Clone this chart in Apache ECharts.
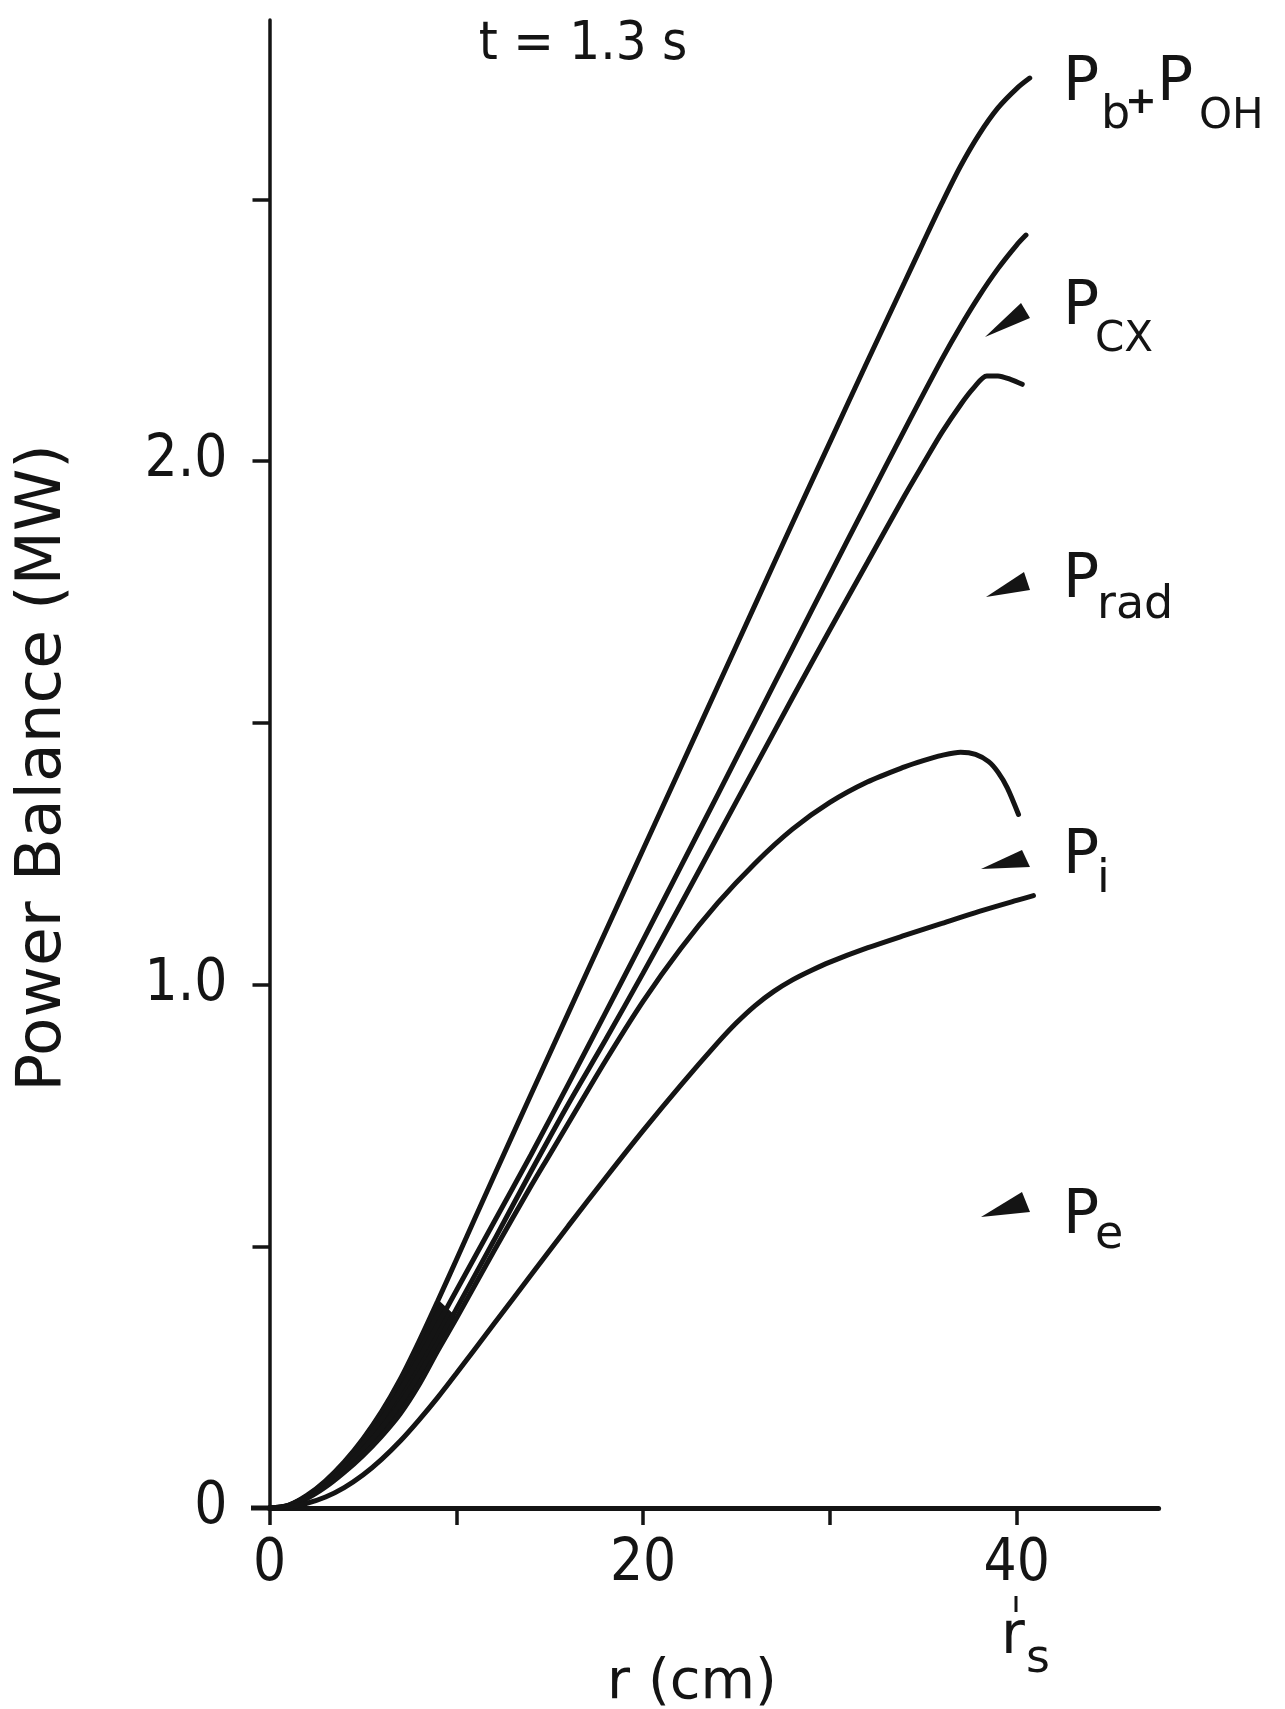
<!DOCTYPE html>
<html>
<head>
<meta charset="utf-8">
<style>
  html, body { margin: 0; padding: 0; background: #ffffff; }
  #chart { width: 1285px; height: 1709px; }
</style>
<script src="https://cdn.jsdelivr.net/npm/echarts@6/dist/echarts.min.js"></script>
</head>
<body>
<div id="chart"></div>
<script>
// radius r (cm) and power (MW)
const xTotal = [0, 1, 2, 3, 4, 5, 6, 7, 8, 9, 10, 12, 14, 16, 18, 20, 22, 24, 26, 28, 30, 32, 34, 35, 36, 37, 38, 39, 40, 40.7];
const yTotal = [0, 0.005, 0.024, 0.052, 0.088, 0.132, 0.184, 0.246, 0.318, 0.395, 0.474, 0.633, 0.79, 0.946, 1.102, 1.258, 1.414, 1.57, 1.726, 1.882, 2.036, 2.19, 2.342, 2.418, 2.493, 2.564, 2.625, 2.675, 2.712, 2.732];

const xCx = [0, 1, 2, 3, 4, 5, 6, 7, 8, 9, 10, 12, 14, 16, 18, 20, 22, 24, 26, 28, 30, 32, 34, 36, 37, 38, 39, 40, 40.5];
const yCx = [0, 0.005, 0.022, 0.048, 0.082, 0.123, 0.17, 0.225, 0.285, 0.35, 0.415, 0.545, 0.675, 0.81, 0.947, 1.085, 1.224, 1.363, 1.503, 1.643, 1.783, 1.922, 2.06, 2.195, 2.258, 2.316, 2.368, 2.413, 2.432];

const xRad = [0, 1, 2, 3, 4, 5, 6, 7, 8, 9, 10, 12, 14, 16, 18, 20, 22, 24, 26, 28, 30, 32, 34, 35, 36, 37, 37.7, 38.4, 39, 39.7, 40.3];
const yRad = [0, 0.004, 0.02, 0.045, 0.076, 0.112, 0.153, 0.2, 0.255, 0.315, 0.38, 0.51, 0.643, 0.772, 0.895, 1.022, 1.152, 1.284, 1.416, 1.548, 1.678, 1.806, 1.934, 1.995, 2.055, 2.108, 2.14, 2.163, 2.163, 2.156, 2.147];

const xIon = [0, 1, 2, 3, 4, 5, 6, 7, 8, 9, 10, 12, 14, 15, 16, 18, 20, 22, 24, 26, 28, 30, 32, 34, 35, 36, 37, 37.8, 38.5, 39, 39.5, 40.1];
const yIon = [0, 0.004, 0.018, 0.04, 0.068, 0.1, 0.137, 0.18, 0.235, 0.3, 0.362, 0.49, 0.615, 0.675, 0.735, 0.855, 0.968, 1.068, 1.156, 1.232, 1.297, 1.348, 1.387, 1.416, 1.428, 1.438, 1.444, 1.44, 1.426, 1.406, 1.376, 1.325];

const xEl = [0, 1, 2, 3, 4, 5, 6, 7, 8, 9, 10, 12, 14, 16, 18, 20, 22, 24, 25, 26, 27, 28, 29, 30, 32, 34, 36, 38, 40, 40.9];
const yEl = [0, 0.002, 0.009, 0.021, 0.039, 0.063, 0.093, 0.128, 0.168, 0.211, 0.257, 0.351, 0.445, 0.539, 0.631, 0.721, 0.807, 0.889, 0.927, 0.96, 0.987, 1.009, 1.027, 1.043, 1.07, 1.094, 1.117, 1.14, 1.161, 1.17];

const xTicks = [0, 10, 20, 30, 40];
const xTickLabels = [0, 20, 40];
const yTicks = [0, 0.5, 1, 1.5, 2, 2.5];
const yTickLabels = [0, 1, 2];

const ink = '#141414';
const numFont = 'DejaVu Sans Condensed';
const txtFont = 'DejaVu Sans';

function pairs(xs, ys) {
    return xs.map(function(x, i) { return [x, ys[i]]; });
}

function curve(name, xs, ys) {
    return {
        name: name,
        type: 'line',
        data: pairs(xs, ys),
        smooth: 0.3,
        showSymbol: false,
        silent: true,
        lineStyle: { color: ink, width: 5, cap: 'round' },
        z: 3
    };
}

var chartDom = document.getElementById('chart');
var myChart = echarts.init(chartDom, null, { renderer: 'canvas' });

// text helper for the graphic layer
function txt(str, x, y, size, opts) {
    opts = opts || {};
    return {
        type: 'text',
        x: x,
        y: y,
        rotation: opts.rotation || 0,
        style: {
            text: str,
            fill: ink,
            font: (opts.weight || 'normal') + ' ' + size + 'px "' + (opts.family || txtFont) + '"',
            align: opts.align || 'left',
            verticalAlign: 'middle'
        }
    };
}

function wedge(pts) {
    return { type: 'polygon', shape: { points: pts }, style: { fill: ink } };
}

var option = {
    backgroundColor: '#ffffff',
    animation: false,
    grid: { left: 269.5, right: 126.4, top: 20, bottom: 201, containLabel: false },
    xAxis: {
        type: 'value',
        min: 0,
        max: 47.6,
        interval: 10,
        splitLine: { show: false },
        axisLine: { lineStyle: { color: ink, width: 5 } },
        axisTick: { length: 17, lineStyle: { color: ink, width: 3.5 }, customValues: xTicks },
        axisLabel: {
            customValues: xTickLabels,
            margin: 28,
            color: ink,
            fontFamily: numFont,
            fontSize: 58
        }
    },
    yAxis: {
        type: 'value',
        min: 0,
        max: 2.843,
        interval: 0.5,
        splitLine: { show: false },
        axisLine: { lineStyle: { color: ink, width: 3.5 } },
        axisTick: { length: 17, lineStyle: { color: ink, width: 3.5 }, customValues: yTicks },
        axisLabel: {
            customValues: yTickLabels,
            margin: 42,
            color: ink,
            fontFamily: numFont,
            fontSize: 58,
            formatter: function(v) { return v === 0 ? '0' : v.toFixed(1); }
        }
    },
    series: [
        // solid black band where the four upper curves merge near the axis
        {
            name: 'band',
            type: 'custom',
            silent: true,
            z: 2,
            data: [[0, 0]],
            renderItem: function(params, api) {
                var pts = [];
                for (var i = 0; i < xTotal.length; i++) {
                    if (xTotal[i] <= 9) pts.push(api.coord([xTotal[i], yTotal[i]]));
                }
                for (var j = xIon.length - 1; j >= 0; j--) {
                    if (xIon[j] <= 10) pts.push(api.coord([xIon[j], yIon[j]]));
                }
                return { type: 'polygon', shape: { points: pts }, style: { fill: ink, stroke: ink, lineWidth: 3 } };
            }
        },
        curve('Pb+POH', xTotal, yTotal),
        curve('Pb+POH-Pcx', xCx, yCx),
        curve('Pb+POH-Pcx-Prad', xRad, yRad),
        curve('Pi', xIon, yIon),
        curve('Pe', xEl, yEl)
    ],
    graphic: [
        // x axis line runs a little past the y axis on the left
        { type: 'line', shape: { x1: 251, y1: 1508, x2: 270, y2: 1508 }, style: { stroke: ink, lineWidth: 5 } },

        txt('t = 1.3 s', 583, 45, 54, { align: 'center', family: numFont }),
        txt('Power Balance (MW)', 44, 768, 63, { align: 'center', rotation: Math.PI / 2 }),
        txt('r (cm)', 692, 1683, 56, { align: 'center' }),

        // r_s below the 40 tick
        { type: 'line', shape: { x1: 1016, y1: 1596, x2: 1016, y2: 1612 }, style: { stroke: ink, lineWidth: 3 } },
        txt('r', 1001, 1638, 58),
        txt('s', 1026, 1660, 46),

        // curve labels
        txt('P', 1063, 84, 60),
        txt('b', 1101, 116, 46),
        txt('+', 1141, 103, 38, { weight: 'bold', align: 'center' }),
        txt('P', 1157, 84, 60),
        txt('OH', 1199, 117, 42),

        txt('P', 1063, 308, 60),
        txt('CX', 1095, 340, 42),

        txt('P', 1063, 581, 60),
        txt('rad', 1097, 606, 46),

        txt('P', 1063, 857, 60),
        txt('i', 1097, 880, 46),

        txt('P', 1063, 1217, 60),
        txt('e', 1095, 1236, 46),

        // leader wedges
        wedge([[985, 337], [1021, 303], [1030, 318]]),
        wedge([[986, 597], [1024, 572], [1030, 590]]),
        wedge([[981, 869], [1022, 850], [1030, 867]]),
        wedge([[981, 1217], [1022, 1192], [1030, 1212]])
    ]
};

option && myChart.setOption(option);
</script>
</body>
</html>
